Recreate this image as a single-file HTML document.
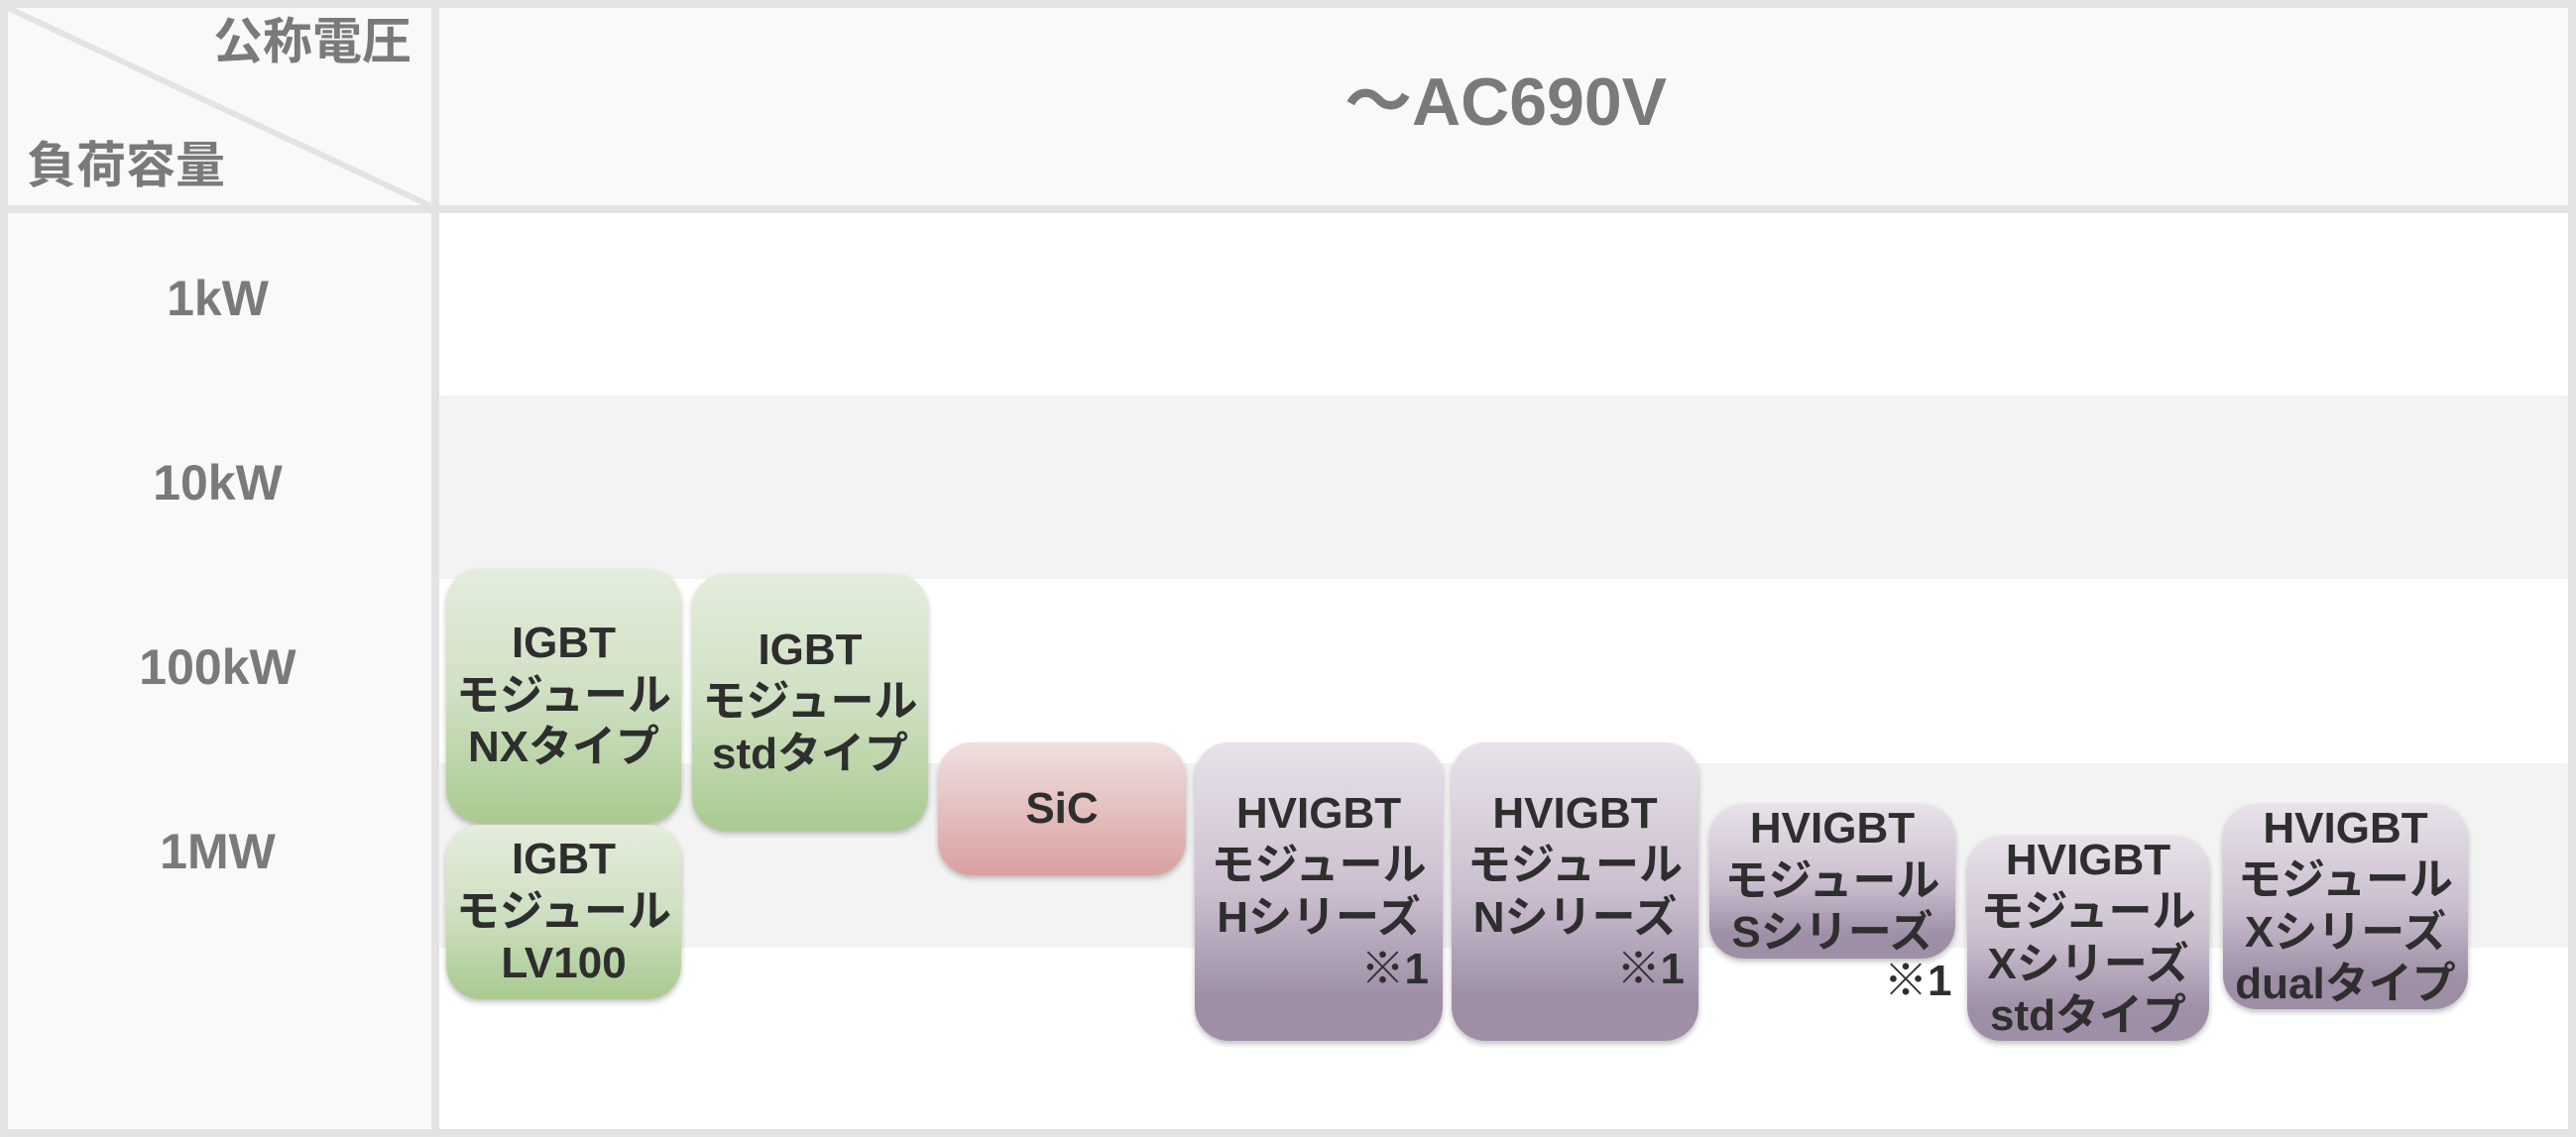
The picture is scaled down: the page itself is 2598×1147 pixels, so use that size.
<!DOCTYPE html>
<html><head><meta charset="utf-8"><style>
*{margin:0;padding:0;box-sizing:border-box}
body{width:2598px;height:1147px;position:relative;background:#fff;overflow:hidden;font-family:"Liberation Sans","Noto Sans CJK JP",sans-serif;font-weight:bold}
.a{position:absolute}
.lbl{position:absolute;color:#7a7a7a;font-size:50px;width:439px;text-align:center;line-height:60px}
.box{position:absolute;border-radius:34px;display:flex;flex-direction:column;justify-content:center;align-items:center;color:#2e2e2e;font-size:44px;line-height:52.5px;text-align:center;box-shadow:0 3px 6px rgba(0,0,0,0.25);white-space:nowrap}
.g{background:linear-gradient(#e4eddd,#cfe0c2 50%,#a9ca90)}
.p{background:linear-gradient(#e8e2ea,#cbbfcf 50%,#9e8fa6 85%)}
.r{background:linear-gradient(#efe0e0,#dba0a0)}
.note{align-self:flex-end;margin-right:14px}
</style></head><body>
<div class="a" style="left:0;top:0;width:439px;height:1147px;background:#f9f9f9"></div>
<div class="a" style="left:439px;top:0;width:2159px;height:211px;background:#f9f9f9"></div>
<div class="a" style="left:439px;top:399px;width:2159px;height:185px;background:#f3f3f3"></div>
<div class="a" style="left:439px;top:770px;width:2159px;height:186px;background:#f3f3f3"></div>
<div class="a" style="left:0;top:0;width:2598px;height:1147px;border:8px solid #e3e3e3"></div>
<div class="a" style="left:435px;top:0;width:8px;height:1147px;background:#e3e3e3"></div>
<div class="a" style="left:0;top:207px;width:2598px;height:8px;background:#e3e3e3"></div>
<svg class="a" style="left:0;top:0" width="440" height="215"><line x1="8" y1="8" x2="437" y2="209" stroke="#e3e3e3" stroke-width="6"/></svg>
<div class="a" style="right:2183px;top:10px;color:#7a7a7a;font-size:50px;line-height:64px">公称電圧</div>
<div class="a" style="left:27px;top:135px;color:#7a7a7a;font-size:50px;line-height:64px">負荷容量</div>
<div class="a" style="left:439px;top:60px;width:2159px;text-align:center;color:#7a7a7a;font-size:68px;line-height:86px">～AC690V</div>
<div class="lbl" style="top:271px">1kW</div>
<div class="lbl" style="top:457px">10kW</div>
<div class="lbl" style="top:643px">100kW</div>
<div class="lbl" style="top:829px">1MW</div>

<div class="box g" style="left:450px;top:574px;width:237px;height:256px"><div>IGBT</div><div>モジュール</div><div>NXタイプ</div></div>
<div class="box g" style="left:450px;top:832px;width:237px;height:176px"><div>IGBT</div><div>モジュール</div><div>LV100</div></div>
<div class="box g" style="left:698px;top:579px;width:238px;height:259px"><div>IGBT</div><div>モジュール</div><div>stdタイプ</div></div>
<div class="box r" style="left:946px;top:749px;width:250px;height:134px"><div>SiC</div></div>
<div class="box p" style="left:1205px;top:749px;width:250px;height:301px"><div>HVIGBT</div><div>モジュール</div><div>Hシリーズ</div><div class="note">※1</div></div>
<div class="box p" style="left:1464px;top:749px;width:249px;height:301px"><div>HVIGBT</div><div>モジュール</div><div>Nシリーズ</div><div class="note">※1</div></div>
<div class="box p" style="left:1724px;top:811px;width:248px;height:156px"><div>HVIGBT</div><div>モジュール</div><div>Sシリーズ</div></div>
<div class="a" style="left:1900px;top:964px;font-size:44px;line-height:52px;color:#2e2e2e">※1</div>
<div class="box p" style="left:1984px;top:843px;width:244px;height:207px"><div>HVIGBT</div><div>モジュール</div><div>Xシリーズ</div><div>stdタイプ</div></div>
<div class="box p" style="left:2242px;top:811px;width:247px;height:207px"><div>HVIGBT</div><div>モジュール</div><div>Xシリーズ</div><div>dualタイプ</div></div>
</body></html>
